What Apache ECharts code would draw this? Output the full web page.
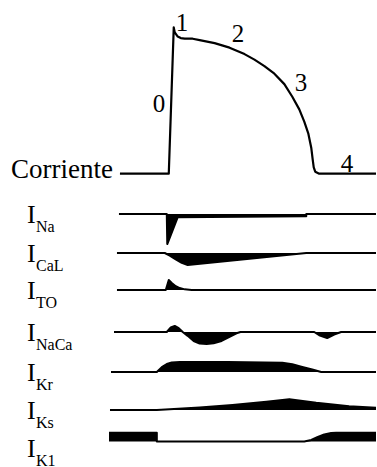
<!DOCTYPE html>
<html>
<head>
<meta charset="utf-8">
<script src="https://cdn.jsdelivr.net/npm/echarts@6/dist/echarts.min.js"></script>
<style>
  html, body { margin: 0; padding: 0; background: #fff; }
  #chart { width: 377px; height: 467px; }
</style>
</head>
<body>
<div id="chart"></div>
<script>
// Ventricular action potential (time in ms from the upstroke, voltage in mV)
const apTime    = [-96, 2, 12, 14, 20, 26, 34, 50, 64, 94, 124, 154, 174, 194, 214, 234, 250, 264, 274, 282, 288, 291, 293, 296, 304, 418];
const apVoltage = [-85, -85, 31, 27, 23.7, 22.5, 22.1, 22, 20.9, 18.5, 14.9, 9.8, 5.4, 0.3, -5.7, -14, -24, -34, -43.7, -53, -64.4, -74, -80, -83.4, -85, -85];

// Phase numbers of the action potential
const phaseLabels = ['0', '1', '2', '3', '4'];

// Ionic currents (normalised amplitude; outward positive, inward negative)
const currentNames = ['Na', 'CaL', 'TO', 'NaCa', 'Kr', 'Ks', 'K1'];

const iNaTime  = [-98, -2, -1, 20, 278, 278, 418];
const iNaValue = [0, 0, -0.94, -0.1, -0.07, 0, 0];

const iCaLTime  = [-102, -6, 4, 16, 28, 40, 278, 418];
const iCaLValue = [0, 0, -0.08, -0.2, -0.31, -0.375, 0, 0];

const iToTime  = [-102, -4, 2, 8, 16, 24, 34, 48, 418];
const iToValue = [0, 0, 0.31, 0.22, 0.12, 0.06, 0.02, 0, 0];

const iNaCaTime  = [-108, -2, 6, 14, 22, 30, 40, 52, 64, 78, 92, 108, 124, 138, 146, 294, 304, 320, 334, 348, 418];
const iNaCaValue = [0, 0, 0.14, 0.19, 0.12, 0, -0.12, -0.28, -0.36, -0.375, -0.35, -0.28, -0.15, -0.04, 0, 0, -0.1, -0.19, -0.08, 0, 0];

const iKrTime  = [-114, -22, -12, -2, 8, 24, 120, 230, 250, 270, 290, 308, 418];
const iKrValue = [0, 0, 0.15, 0.25, 0.3, 0.31, 0.31, 0.29, 0.24, 0.16, 0.08, 0, 0];

const iKsTime  = [-116, -22, 64, 130, 198, 244, 298, 364, 418];
const iKsValue = [0, 0, 0.08, 0.16, 0.26, 0.34, 0.23, 0.12, 0.07];

const iK1Time  = [-118, -22, -22, 274, 288, 300, 314, 328, 338, 418];
const iK1Value = [0.34, 0.34, 0, 0, 0.06, 0.17, 0.28, 0.33, 0.34, 0.34];

const currentTimes  = [iNaTime, iCaLTime, iToTime, iNaCaTime, iKrTime, iKsTime, iK1Time];
const currentValues = [iNaValue, iCaLValue, iToValue, iNaCaValue, iKrValue, iKsValue, iK1Value];

// ---- layout ----
const SERIF = 'Liberation Serif';
const plotLeft = 108, plotWidth = 270;
const traceBaselines = [214, 253, 290, 332, 372, 410, 448];
const traceHalf = 32;
const phasePos = [[159, 103], [182, 22], [238, 33], [301, 82], [347, 163]];

const pairs = (xs, ys) => xs.map((x, i) => [x, ys[i]]);

const grids = [{ left: plotLeft, width: plotWidth, top: 16, height: 164 }];
const xAxes = [{ gridIndex: 0, type: 'value', min: -120, max: 420, show: false }];
const yAxes = [{ gridIndex: 0, type: 'value', min: -90, max: 40, show: false }];
const series = [{
  type: 'line', xAxisIndex: 0, yAxisIndex: 0,
  data: pairs(apTime, apVoltage),
  showSymbol: false, smooth: false,
  lineStyle: { color: '#000', width: 2.2, join: 'round' },
  animation: false, silent: true
}];

currentNames.forEach((name, k) => {
  const idx = k + 1;
  grids.push({ left: plotLeft, width: plotWidth, top: traceBaselines[k] - traceHalf, height: traceHalf * 2 });
  xAxes.push({ gridIndex: idx, type: 'value', min: -120, max: 420, show: false });
  yAxes.push({ gridIndex: idx, type: 'value', min: -1, max: 1, show: false });
  series.push({
    name: 'I' + name,
    type: 'line', xAxisIndex: idx, yAxisIndex: idx,
    data: pairs(currentTimes[k], currentValues[k]),
    showSymbol: false, smooth: false,
    lineStyle: { color: '#000', width: 2, join: 'round' },
    areaStyle: { color: '#000', opacity: 1, origin: 'auto' },
    animation: false, silent: true
  });
});

function label(text, x, y, size, align) {
  return {
    type: 'text', x: x, y: y, silent: true,
    style: {
      text: text, fontFamily: SERIF, fontSize: size, fontWeight: 'normal',
      fill: '#000', align: align, verticalAlign: 'middle'
    }
  };
}

const graphics = [label('Corriente', 113, 169, 27, 'right')];
phaseLabels.forEach((p, i) => graphics.push(label(p, phasePos[i][0], phasePos[i][1], 25, 'center')));
currentNames.forEach((name, k) => {
  const b = traceBaselines[k];
  graphics.push(label('I', 27, b, 26, 'left'));
  graphics.push(label(name, 36, b + 12, 16, 'left'));
});

const chart = echarts.init(document.getElementById('chart'), null, { renderer: 'svg' });
chart.setOption({
  backgroundColor: '#fff',
  animation: false,
  grid: grids,
  xAxis: xAxes,
  yAxis: yAxes,
  series: series,
  graphic: graphics
});
</script>
</body>
</html>
